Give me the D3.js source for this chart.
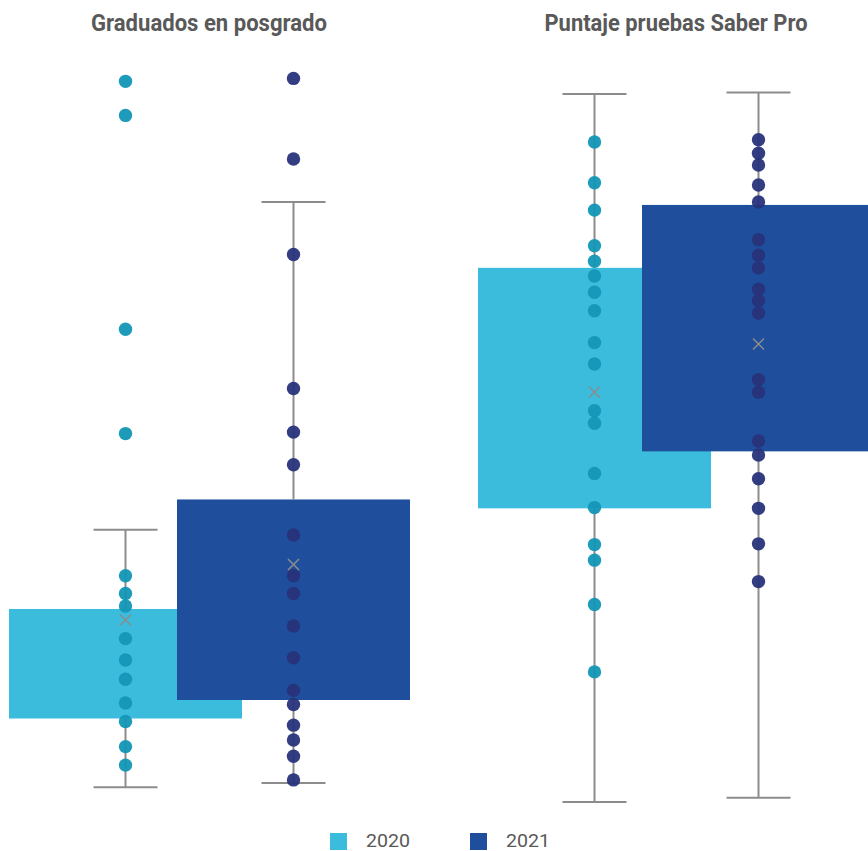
<!DOCTYPE html>
<html><head><meta charset="utf-8">
<script src="https://cdn.jsdelivr.net/npm/d3@7"></script>
<style>html,body{margin:0;padding:0;background:#fff;}svg{display:block;}</style>
</head><body>
<svg id="chart" width="868" height="851"></svg>
<script>
// ---- data ----
const panels = ["Graduados en posgrado", "Puntaje pruebas Saber Pro"];
const years = ["2020", "2021"];

const gradPoints2020 = [98.6, 94.0, 65.1, 51.0, 31.8, 29.4, 27.7, 23.3, 20.4, 17.8, 14.6, 12.1, 8.7, 6.2];
const gradPoints2021 = [99.0, 88.1, 75.2, 57.1, 51.2, 46.8, 37.3, 31.8, 29.4, 25.0, 20.7, 16.3, 14.4, 11.6, 9.6, 7.4, 4.2];
const saberPoints2020 = [90.4, 84.9, 81.2, 76.4, 74.3, 72.3, 70.1, 67.6, 63.3, 60.4, 54.1, 52.4, 45.6, 41.0, 36.0, 33.9, 27.9, 18.8];
const saberPoints2021 = [90.7, 88.9, 87.3, 84.6, 82.3, 77.2, 75.1, 73.4, 70.5, 69.0, 67.3, 58.3, 56.6, 50.0, 48.1, 44.9, 40.9, 36.1, 31.0];

// box stats: [whiskerLow, q1, q3, whiskerHigh, mean]
const gradStats2020 = [3.2, 12.5, 27.3, 38.0, 25.8];
const gradStats2021 = [3.8, 15.0, 42.1, 82.3, 33.3];
const saberStats2020 = [1.2, 40.9, 73.4, 96.9, 56.6];
const saberStats2021 = [1.8, 48.6, 81.9, 97.1, 63.1];

// ---- styling ----
const boxColors = {"2020": "#3bbcdd", "2021": "#1e4e9c"};
const dotColors = {"2020": "#1396b6", "2021": "#28337a"};
const grey = "#8c8c8c";
const textGrey = "#595959";

const svg = d3.select("#chart");
const y = d3.scaleLinear().domain([0, 100]).range([811, 71]);

const panelDefs = [
  {title: panels[0], range: [125.5, 293.5], titleX: 209, titleW: 236,
   series: {"2020": {pts: gradPoints2020, st: gradStats2020}, "2021": {pts: gradPoints2021, st: gradStats2021}}},
  {title: panels[1], range: [594.5, 758.5], titleX: 676, titleW: 263,
   series: {"2020": {pts: saberPoints2020, st: saberStats2020}, "2021": {pts: saberPoints2021, st: saberStats2021}}}
];

const boxW = 233, capW = 64, r = 6.7, xs = 5.5;

panelDefs.forEach(p => {
  const x = d3.scalePoint().domain(years).range(p.range);
  const g = svg.append("g");
  g.append("text").attr("x", p.titleX).attr("y", 31).attr("text-anchor", "middle")
    .attr("font-family", "Roboto, 'DejaVu Sans', sans-serif").attr("font-weight", "bold")
    .attr("font-size", 23).attr("fill", textGrey)
    .attr("textLength", p.titleW).attr("lengthAdjust", "spacingAndGlyphs")
    .text(p.title);

  years.forEach(yr => {
    const s = p.series[yr];
    const [wl, q1, q3, wh, mean] = s.st;
    const cx = x(yr);
    const sg = g.append("g");
    sg.append("rect").attr("x", cx - boxW / 2).attr("width", boxW)
      .attr("y", y(q3)).attr("height", y(q1) - y(q3)).attr("fill", boxColors[yr]);
    // whiskers
    sg.append("line").attr("x1", cx).attr("x2", cx).attr("y1", y(q3)).attr("y2", y(wh))
      .attr("stroke", grey).attr("stroke-width", 2);
    sg.append("line").attr("x1", cx).attr("x2", cx).attr("y1", y(q1)).attr("y2", y(wl))
      .attr("stroke", grey).attr("stroke-width", 2);
    [wl, wh].forEach(v => {
      sg.append("line").attr("x1", cx - capW / 2).attr("x2", cx + capW / 2)
        .attr("y1", y(v)).attr("y2", y(v)).attr("stroke", grey).attr("stroke-width", 2);
    });
    // points
    sg.selectAll("circle").data(s.pts).join("circle")
      .attr("cx", cx).attr("cy", d => y(d)).attr("r", r)
      .attr("fill", dotColors[yr]).attr("fill-opacity", 0.95);
    // mean marker
    const my = y(mean);
    sg.append("path")
      .attr("d", `M${cx - xs},${my - xs}L${cx + xs},${my + xs}M${cx - xs},${my + xs}L${cx + xs},${my - xs}`)
      .attr("stroke", grey).attr("stroke-width", 1.5).attr("fill", "none");
  });
});

// legend
const legX = d3.scalePoint().domain(years).range([330, 470]);
const leg = svg.append("g");
years.forEach(yr => {
  leg.append("rect").attr("x", legX(yr)).attr("y", 833).attr("width", 17).attr("height", 17)
    .attr("fill", boxColors[yr]);
  leg.append("text").attr("x", legX(yr) + 36).attr("y", 847)
    .attr("font-family", "Roboto, 'DejaVu Sans', sans-serif").attr("font-size", 19)
    .attr("fill", textGrey).attr("textLength", 44).attr("lengthAdjust", "spacingAndGlyphs")
    .text(yr);
});
</script>
</body></html>
